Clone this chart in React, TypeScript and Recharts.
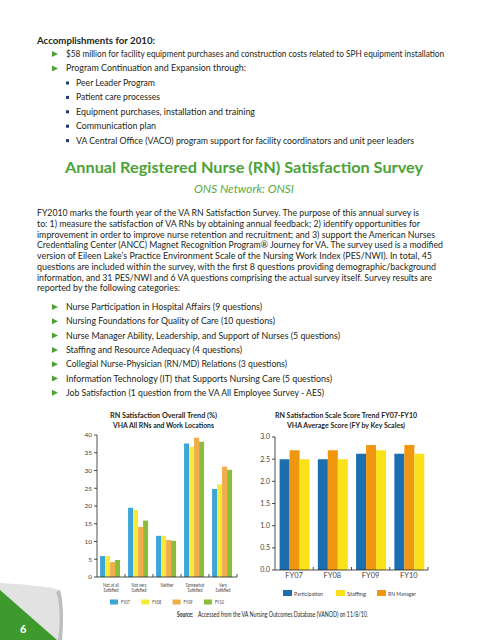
import { BarChart, Bar, XAxis, YAxis } from 'recharts'

// left chart: overall trend (%)
const trendCategories = ['Not at all\nSatisfied', 'Not very\nSatisfied', 'Neither', 'Somewhat\nSatisfied', 'Very\nSatisfied']
const fy07 = [5.9, 19.5, 11.6, 37.6, 24.8]
const fy08 = [5.9, 18.9, 11.6, 36.7, 26.1]
const fy09 = [4.2, 14.1, 10.4, 39.2, 31.1]
const fy10 = [4.8, 15.9, 10.2, 38.1, 30.2]
const trendTicks = [0, 5, 10, 15, 20, 25, 30, 35, 40]

// right chart: scale score trend
const years = ['FY07', 'FY08', 'FY09', 'FY10']
const participation = [2.5, 2.5, 2.62, 2.62]
const rnManager = [2.7, 2.7, 2.82, 2.82]
const staffing = [2.5, 2.5, 2.7, 2.62]
const scoreTicks = [0, 0.5, 1, 1.5, 2, 2.5, 3]

const trendSeries = [
  { key: 'FY07', values: fy07, color: '#3ba5d8' },
  { key: 'FY08', values: fy08, color: '#f4ea3c' },
  { key: 'FY09', values: fy09, color: '#f2ac4a' },
  { key: 'FY10', values: fy10, color: '#8bbd3c' },
]
const scoreSeries = [
  { key: 'Participation', values: participation, color: '#1b6fb1' },
  { key: 'RN Manager', values: rnManager, color: '#f0960f' },
  { key: 'Staffing', values: staffing, color: '#f9e21a' },
]
const scoreLegendOrder = ['Participation', 'Staffing', 'RN Manager']

const trendData = trendCategories.map((c, i) => {
  const row: any = { cat: c }
  trendSeries.forEach(s => { row[s.key] = s.values[i] })
  return row
})
const scoreData = years.map((y, i) => {
  const row: any = { year: y }
  scoreSeries.forEach(s => { row[s.key] = s.values[i] })
  return row
})

const accomplishments = [
  '$58 million for facility equipment purchases and construction costs related to SPH equipment installation',
  'Program Continuation and Expansion through:',
]
const subItems = [
  'Peer Leader Program',
  'Patient care processes',
  'Equipment purchases, installation and training',
  'Communication plan',
  'VA Central Office (VACO) program support for facility coordinators and unit peer leaders',
]
const paragraph = [
  'FY2010 marks the fourth year of the VA RN Satisfaction Survey.  The purpose of this annual survey is',
  'to: 1) measure the satisfaction of VA RNs by obtaining annual feedback; 2) identify opportunities for',
  'improvement in order to improve nurse retention and recruitment; and 3) support the American Nurses',
  'Credentialing Center (ANCC) Magnet Recognition Program® Journey for VA.  The survey used is a modified',
  'version of Eileen Lake’s Practice Environment Scale of the Nursing Work Index (PES/NWI).  In total, 45',
  'questions are included within the survey, with the first 8 questions providing demographic/background',
  'information, and 31 PES/NWI and 6 VA questions comprising the actual survey itself.  Survey results are',
  'reported by the following categories:',
]
const categories = [
  'Nurse Participation in Hospital Affairs (9 questions)',
  'Nursing Foundations for Quality of Care (10 questions)',
  'Nurse Manager Ability, Leadership, and Support of Nurses (5 questions)',
  'Staffing and Resource Adequacy (4 questions)',
  'Collegial Nurse-Physician (RN/MD) Relations (3 questions)',
  'Information Technology (IT) that Supports Nursing Care (5 questions)',
  'Job Satisfaction (1 question from the VA All Employee Survey - AES)',
]

// measured line widths from the page
const accWidths = [378, 180]
const subWidths = [79, 84, 179, 80, 338]
const paraWidths = [382, 383, 398, 406, 395, 399, 395, 143]
const catWidths = [196, 209, 274, 176, 221, 266, 258]

const FONT = 'Lato, "Noto Sans", sans-serif'
const GREEN = '#4ca236'
const INK = '#231f20'
const L_CAT = 28
const R_CAT = 38.25

const T = ({ x, y, w, size, children, weight = 400, fill = INK, italic = false, anchor = 'start' }: any) => (
  <text
    x={x} y={y} fontSize={size} fontWeight={weight} fill={fill}
    fontStyle={italic ? 'italic' : 'normal'} textAnchor={anchor}
    textLength={w} lengthAdjust="spacingAndGlyphs" fontFamily={FONT}
  >{children}</text>
)

const Tri = ({ x, y }: any) => <path d={`M${x},${y - 3} L${x + 6},${y} L${x},${y + 3} Z`} fill={GREEN} />

const TrendTick = ({ x, y, payload }: any) => {
  const lines = String(payload.value).split('\n')
  return (
    <g>
      <line x1={x + L_CAT / 2} x2={x + L_CAT / 2} y1={y} y2={y - 3} stroke="#222" strokeWidth={0.8} />
      <g transform={`translate(${x},${y}) scale(0.72,1)`}>
        {lines.map((l, i) => (
          <text key={i} x={0} y={10 + i * 5.5} textAnchor="middle" fontSize={5.5} fill="#444" fontFamily={FONT}>{l}</text>
        ))}
      </g>
    </g>
  )
}

const YearTick = ({ x, y, payload }: any) => (
  <g>
    <line x1={x + R_CAT / 2} x2={x + R_CAT / 2} y1={y} y2={y - 3} stroke="#222" strokeWidth={0.8} />
    <text x={x} y={y + 8} textAnchor="middle" fontSize={7.5} fill="#444" fontFamily={FONT}>{payload.value}</text>
  </g>
)

export default function App() {
  return (
    <div style={{ position: 'absolute', left: 0, top: 0, width: 495, height: 640, background: '#fff', overflow: 'hidden' }}>
      <svg width={495} height={640} style={{ position: 'absolute', left: 0, top: 0 }}>
        <T x={37} y={43.5} w={118} size={9.5} weight={700}>Accomplishments for 2010:</T>
        {accomplishments.map((t, i) => (
          <g key={t}>
            <Tri x={52} y={54 + i * 14.4} />
            <T x={66} y={57 + i * 14.4} w={accWidths[i]} size={9}>{t}</T>
          </g>
        ))}
        {subItems.map((t, i) => (
          <g key={t}>
            <rect x={66} y={81.5 + i * 14.4} width={3} height={3} fill="#1f3a6b" />
            <T x={76} y={86 + i * 14.4} w={subWidths[i]} size={9}>{t}</T>
          </g>
        ))}

        <T x={65} y={172.5} w={358} size={15.5} weight={700} fill={GREEN}>Annual Registered Nurse (RN) Satisfaction Survey</T>
        <T x={194} y={193} w={100} size={10.5} italic fill="#5aab3f">ONS Network:  ONSI</T>

        {paragraph.map((t, i) => (
          <T key={i} x={37} y={216 + i * 10.75} w={paraWidths[i]} size={9}>{t}</T>
        ))}
        {categories.map((t, i) => (
          <g key={t}>
            <Tri x={52} y={307 + i * 14.3} />
            <T x={66} y={310 + i * 14.3} w={catWidths[i]} size={9}>{t}</T>
          </g>
        ))}

        <T x={110} y={418} w={107} size={8} weight={700}>RN Satisfaction Overall Trend (%)</T>
        <T x={113} y={428} w={101} size={8} weight={700}>VHA All RNs and Work Locations</T>
        <T x={275} y={418} w={142} size={8} weight={700}>RN Satisfaction Scale Score Trend FY07-FY10</T>
        <T x={287} y={428} w={118} size={8} weight={700}>VHA Average Score (FY by Key Scales)</T>

        {trendSeries.map((s, i) => (
          <g key={s.key}>
            <rect x={110 + i * 31.3} y={599.5} width={8} height={5} fill={s.color} />
            <T x={121 + i * 31.3} y={604} w={9} size={5.5} fill="#444">{s.key}</T>
          </g>
        ))}
        {scoreLegendOrder.map((k, i) => {
          const s = scoreSeries.find(d => d.key === k)!
          const xs = [283, 336, 377]
          const ws = [29, 19, 28]
          return (
            <g key={k}>
              <rect x={xs[i]} y={590} width={9} height={6} fill={s.color} />
              <T x={xs[i] + 11} y={595.5} w={ws[i]} size={6.5} fill="#444">{k}</T>
            </g>
          )
        })}

        <T x={177} y={616.5} w={16} size={7} weight={700}>Source:</T>
        <T x={198} y={616.5} w={170} size={7}>Accessed from the VA Nursing Outcomes Database (VANOD) on 11/8/10.</T>

        {/* page curl with page number */}
        <path d="M0,583 C20,584 45,586 60,590 C63,605 62,625 60,640 L0,640 Z" fill="#e2e2e2" />
        <path d="M56,592 C60,600 61,622 58,640 L62,640 C64,620 63,600 60,590 Z" fill="#bdbdbd" />
        <path d="M0,590 L57,640 L0,640 Z" fill="#3f9a2e" />
        <text x={20} y={633} fontSize={11} fontWeight={700} fill="#fff" fontFamily={FONT}>6</text>
      </svg>

      <div style={{ position: 'absolute', left: 70, top: 425 }}>
        <BarChart width={175} height={175} data={trendData} margin={{ top: 10, right: 8, left: 0, bottom: 0 }}
          barCategoryGap="11%" barGap={0}>
          <XAxis dataKey="cat" interval={0} height={23} tickSize={0} tickMargin={0}
            axisLine={{ stroke: '#222', strokeWidth: 0.8 }} tick={<TrendTick />} />
          <YAxis width={27} domain={[0, 40]} ticks={trendTicks} tickSize={3}
            axisLine={{ stroke: '#222', strokeWidth: 0.8 }} tickLine={{ stroke: '#222', strokeWidth: 0.8 }}
            tick={{ fontSize: 6.5, fill: '#444', fontFamily: FONT }} />
          {trendSeries.map(s => (
            <Bar key={s.key} dataKey={s.key} fill={s.color} isAnimationActive={false} />
          ))}
        </BarChart>
      </div>

      <div style={{ position: 'absolute', left: 245, top: 425 }}>
        <BarChart width={190} height={160} data={scoreData} margin={{ top: 12, right: 7, left: 0, bottom: 0 }}
          barCategoryGap="12%" barGap={0}>
          <XAxis dataKey="year" interval={0} height={15} tickSize={0} tickMargin={0}
            axisLine={{ stroke: '#222', strokeWidth: 0.8 }} tick={<YearTick />} />
          <YAxis width={30} domain={[0, 3]} ticks={scoreTicks} tickSize={3}
            tickFormatter={(v: number) => v.toFixed(1)}
            axisLine={{ stroke: '#222', strokeWidth: 0.8 }} tickLine={{ stroke: '#222', strokeWidth: 0.8 }}
            tick={{ fontSize: 7, fill: '#444', fontFamily: FONT }} />
          {scoreSeries.map(s => (
            <Bar key={s.key} dataKey={s.key} fill={s.color} isAnimationActive={false} />
          ))}
        </BarChart>
      </div>
    </div>
  )
}
